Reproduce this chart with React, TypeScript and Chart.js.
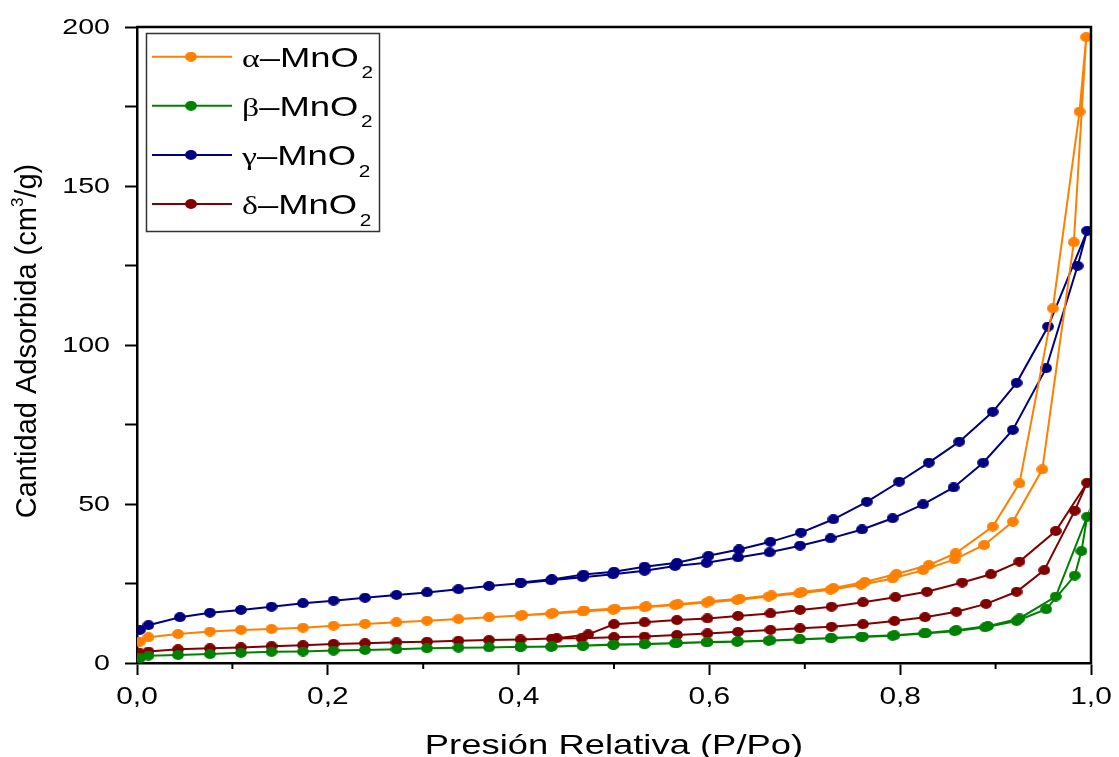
import { useEffect, useRef } from 'react';
import { Chart, registerables } from 'chart.js';
Chart.register(...registerables);

// ---- Data (relative pressure P/Po, adsorbed quantity cm3/g) ----
const ALPHA_ADS_P = [0.003, 0.012, 0.043, 0.0765, 0.109, 0.141, 0.174, 0.206, 0.239, 0.272, 0.304, 0.337, 0.369, 0.402, 0.434, 0.467, 0.499, 0.532, 0.564, 0.597, 0.629, 0.662, 0.694, 0.727, 0.759, 0.792, 0.824, 0.857, 0.888, 0.918, 0.949, 0.982, 0.995];
const ALPHA_ADS_V = [6.7, 8.1, 9.1, 9.9, 10.4, 10.7, 11.1, 11.7, 12.3, 12.8, 13.3, 13.8, 14.4, 14.9, 15.5, 16.2, 16.8, 17.5, 18.2, 19.0, 19.8, 20.9, 21.9, 23.0, 24.6, 26.6, 29.2, 32.6, 37.1, 44.4, 60.9, 132.3, 196.8];
const ALPHA_DES_P = [0.995, 0.988, 0.96, 0.925, 0.897, 0.858, 0.83, 0.796, 0.763, 0.73, 0.697, 0.665, 0.632, 0.6, 0.567, 0.534, 0.501, 0.469, 0.436, 0.404];
const ALPHA_DES_V = [196.8, 173.4, 111.5, 56.5, 42.9, 34.5, 30.8, 28.0, 25.5, 23.6, 22.3, 21.3, 20.2, 19.4, 18.5, 17.8, 17.1, 16.5, 15.7, 15.0];

const BETA_ADS_P = [0.003, 0.012, 0.043, 0.0765, 0.109, 0.141, 0.174, 0.206, 0.239, 0.272, 0.304, 0.337, 0.369, 0.402, 0.434, 0.467, 0.499, 0.532, 0.564, 0.597, 0.629, 0.662, 0.694, 0.727, 0.759, 0.792, 0.825, 0.857, 0.889, 0.922, 0.953, 0.983, 0.99, 0.996];
const BETA_ADS_V = [1.5, 2.3, 2.5, 2.8, 3.2, 3.5, 3.6, 3.9, 4.1, 4.3, 4.6, 4.8, 4.9, 5.1, 5.1, 5.4, 5.7, 5.9, 6.2, 6.5, 6.7, 7.0, 7.4, 7.8, 8.2, 8.6, 9.3, 10.0, 11.2, 13.2, 16.9, 27.5, 35.2, 46.0];
const BETA_DES_P = [0.996, 0.963, 0.925, 0.892, 0.859, 0.827, 0.794, 0.761, 0.728, 0.695, 0.664, 0.63, 0.598, 0.566, 0.532, 0.5, 0.468, 0.435, 0.402];
const BETA_DES_V = [46.0, 20.9, 14.0, 11.6, 10.3, 9.4, 8.7, 8.3, 7.9, 7.5, 7.1, 6.8, 6.6, 6.3, 6.0, 5.8, 5.5, 5.2, 5.0];

const GAMMA_ADS_P = [0.003, 0.012, 0.045, 0.0765, 0.109, 0.141, 0.174, 0.206, 0.239, 0.272, 0.304, 0.337, 0.369, 0.402, 0.434, 0.467, 0.499, 0.532, 0.564, 0.597, 0.63, 0.663, 0.695, 0.727, 0.76, 0.792, 0.824, 0.856, 0.887, 0.918, 0.953, 0.986, 0.996];
const GAMMA_ADS_V = [10.4, 11.9, 14.4, 15.8, 16.7, 17.7, 18.8, 19.6, 20.5, 21.4, 22.2, 23.2, 24.2, 25.1, 26.0, 27.0, 27.9, 29.0, 30.5, 31.5, 33.2, 34.8, 36.9, 39.2, 42.0, 45.5, 49.9, 55.2, 63.0, 73.3, 92.7, 124.9, 135.9];
const GAMMA_DES_P = [0.996, 0.955, 0.922, 0.897, 0.862, 0.83, 0.799, 0.765, 0.73, 0.696, 0.664, 0.631, 0.599, 0.566, 0.532, 0.5, 0.468, 0.435, 0.402];
const GAMMA_DES_V = [135.9, 105.8, 88.1, 79.0, 69.6, 63.0, 57.0, 50.7, 45.2, 41.0, 38.1, 35.7, 33.7, 31.5, 30.3, 28.7, 27.8, 26.3, 25.3];

const DELTA_ADS_P = [0.003, 0.012, 0.043, 0.0765, 0.109, 0.141, 0.174, 0.206, 0.239, 0.272, 0.304, 0.337, 0.369, 0.402, 0.435, 0.466, 0.5, 0.532, 0.566, 0.598, 0.63, 0.664, 0.695, 0.728, 0.761, 0.794, 0.826, 0.859, 0.89, 0.922, 0.951, 0.983, 0.996];
const DELTA_ADS_V = [3.0, 3.6, 4.3, 4.6, 4.9, 5.3, 5.6, 6.0, 6.2, 6.5, 6.7, 7.0, 7.2, 7.4, 7.7, 7.8, 8.1, 8.3, 8.8, 9.3, 9.8, 10.4, 10.9, 11.4, 12.2, 13.2, 14.4, 16.1, 18.6, 22.4, 29.2, 47.9, 56.7];
const DELTA_DES_P = [0.996, 0.963, 0.925, 0.895, 0.865, 0.828, 0.795, 0.761, 0.728, 0.695, 0.664, 0.63, 0.598, 0.566, 0.532, 0.5, 0.473, 0.44];
const DELTA_DES_V = [56.7, 41.5, 31.9, 27.9, 25.3, 22.4, 20.7, 19.1, 17.7, 16.7, 15.6, 14.8, 14.0, 13.5, 12.8, 12.2, 9.0, 7.8];

const SERIES_GREEK = ['α', 'β', 'γ', 'δ'];
const SERIES_NAME = '–MnO';
const SERIES_SUB = '2';
const SERIES_COLORS = ['#FF8000', '#008000', '#000080', '#800000'];

const X_TICK_VALUES = [0, 0.2, 0.4, 0.6, 0.8, 1.0];
const X_TICK_LABELS = ['0,0', '0,2', '0,4', '0,6', '0,8', '1,0'];
const X_MINOR_VALUES = [0.1, 0.3, 0.5, 0.7, 0.9];
const Y_TICK_VALUES = [0, 50, 100, 150, 200];
const Y_TICK_LABELS = ['0', '50', '100', '150', '200'];

const X_TITLE = 'Presión Relativa (P/Po)';
const Y_TITLE_A = 'Cantidad Adsorbida (cm';
const Y_TITLE_SUP = '3';
const Y_TITLE_B = '/g)';

const SANS = '"Liberation Sans", Arial, sans-serif';
const SERIF = '"Liberation Serif", "Times New Roman", serif';

function makeDot(color: string) {
  const c = document.createElement('canvas');
  c.width = 12;
  c.height = 10;
  const g = c.getContext('2d')!;
  g.fillStyle = color;
  g.beginPath();
  g.ellipse(6, 5, 5.9, 4.9, 0, 0, Math.PI * 2);
  g.fill();
  return c;
}

function buildSeries(adsP: number[], adsV: number[], desP: number[], desV: number[]) {
  const pts = adsP.map((p, i) => ({ x: p, y: adsV[i] }));
  for (let i = 1; i < desP.length; i++) pts.push({ x: desP[i], y: desV[i] });
  return pts;
}

export default function App() {
  const ref = useRef<HTMLCanvasElement | null>(null);

  useEffect(() => {
    document.body.style.margin = '0';
    const canvas = ref.current!;
    const dots = SERIES_COLORS.map(makeDot);
    const seriesData = [
      buildSeries(ALPHA_ADS_P, ALPHA_ADS_V, ALPHA_DES_P, ALPHA_DES_V),
      buildSeries(BETA_ADS_P, BETA_ADS_V, BETA_DES_P, BETA_DES_V),
      buildSeries(GAMMA_ADS_P, GAMMA_ADS_V, GAMMA_DES_P, GAMMA_DES_V),
      buildSeries(DELTA_ADS_P, DELTA_ADS_V, DELTA_DES_P, DELTA_DES_V),
    ];

    const decor = {
      id: 'decor',
      afterDraw(chart: any) {
        const ctx = chart.ctx as CanvasRenderingContext2D;
        const { left, right, top, bottom } = chart.chartArea;
        const xs = chart.scales.x;
        const ys = chart.scales.y;
        ctx.save();
        // top & right frame
        ctx.strokeStyle = '#000';
        ctx.lineWidth = 2.5;
        ctx.beginPath();
        ctx.moveTo(left - 1, top);
        ctx.lineTo(right, top);
        ctx.lineTo(right, bottom + 1);
        ctx.stroke();
        // minor x ticks
        ctx.lineWidth = 2;
        X_MINOR_VALUES.forEach((v) => {
          const px = xs.getPixelForValue(v);
          ctx.beginPath();
          ctx.moveTo(px, bottom);
          ctx.lineTo(px, bottom + 6);
          ctx.stroke();
        });
        ctx.fillStyle = '#000';
        // x tick labels
        X_TICK_VALUES.forEach((v, i) => {
          const px = xs.getPixelForValue(v);
          ctx.save();
          ctx.translate(px, bottom + 41);
          ctx.scale(1.3, 1);
          ctx.font = `23px ${SANS}`;
          ctx.textAlign = 'center';
          ctx.textBaseline = 'alphabetic';
          ctx.fillText(X_TICK_LABELS[i], 0, 0);
          ctx.restore();
        });
        // y tick labels
        Y_TICK_VALUES.forEach((v, i) => {
          const py = ys.getPixelForValue(v);
          ctx.save();
          ctx.translate(left - 27, py + 6.5);
          ctx.scale(1.3, 1);
          ctx.font = `22px ${SANS}`;
          ctx.textAlign = 'right';
          ctx.textBaseline = 'alphabetic';
          ctx.fillText(Y_TICK_LABELS[i], 0, 0);
          ctx.restore();
        });
        // x title
        ctx.save();
        ctx.translate((left + right) / 2, 754);
        ctx.scale(1.3, 1);
        ctx.font = `28px ${SANS}`;
        ctx.textAlign = 'center';
        ctx.textBaseline = 'alphabetic';
        ctx.fillText(X_TITLE, 0, 0);
        ctx.restore();
        // y title
        ctx.save();
        ctx.translate(36, 341);
        ctx.rotate(-Math.PI / 2);
        ctx.textAlign = 'left';
        ctx.textBaseline = 'alphabetic';
        ctx.font = `29px ${SANS}`;
        const wA = ctx.measureText(Y_TITLE_A).width;
        const wB = ctx.measureText(Y_TITLE_B).width;
        ctx.font = `17px ${SANS}`;
        const wS = ctx.measureText(Y_TITLE_SUP).width;
        let sx = -(wA + wS + wB) / 2;
        ctx.font = `29px ${SANS}`;
        ctx.fillText(Y_TITLE_A, sx, 0);
        sx += wA;
        ctx.font = `17px ${SANS}`;
        ctx.fillText(Y_TITLE_SUP, sx, -13);
        sx += wS;
        ctx.font = `29px ${SANS}`;
        ctx.fillText(Y_TITLE_B, sx, 0);
        ctx.restore();
        // legend
        ctx.save();
        ctx.fillStyle = '#fff';
        ctx.fillRect(147, 34, 232, 197);
        ctx.strokeStyle = '#333';
        ctx.lineWidth = 1.5;
        ctx.strokeRect(146.5, 33.5, 233, 198);
        SERIES_GREEK.forEach((g, i) => {
          const ry = 56.7 + i * 49.1;
          ctx.strokeStyle = SERIES_COLORS[i];
          ctx.lineWidth = 2;
          ctx.beginPath();
          ctx.moveTo(152, ry);
          ctx.lineTo(232, ry);
          ctx.stroke();
          ctx.drawImage(dots[i], 191 - 6, ry - 5);
          ctx.save();
          ctx.translate(242, ry + 10);
          ctx.scale(1.3, 1);
          ctx.fillStyle = '#000';
          ctx.textAlign = 'left';
          ctx.textBaseline = 'alphabetic';
          ctx.font = `26px ${SERIF}`;
          ctx.fillText(g, 0, 0);
          const w1 = ctx.measureText(g).width;
          ctx.font = `28px ${SANS}`;
          ctx.fillText(SERIES_NAME, w1, 0);
          const w2 = ctx.measureText(SERIES_NAME).width;
          ctx.font = `16px ${SANS}`;
          ctx.fillText(SERIES_SUB, w1 + w2 + 2, 11.6);
          ctx.restore();
        });
        ctx.restore();
        ctx.restore();
      },
    };

    const chart = new Chart(canvas, {
      type: 'scatter',
      data: {
        datasets: seriesData.map((d, i) => ({
          label: SERIES_GREEK[i] + SERIES_NAME + SERIES_SUB,
          data: d,
          showLine: true,
          borderColor: SERIES_COLORS[i],
          backgroundColor: SERIES_COLORS[i],
          borderWidth: 2,
          pointStyle: dots[i],
          pointRadius: 5,
          tension: 0,
        })),
      },
      options: {
        responsive: false,
        animation: false,
        layout: { padding: { left: 0, top: 27, right: 28, bottom: 0 } },
        plugins: { legend: { display: false }, tooltip: { enabled: false }, title: { display: false } },
        scales: {
          x: {
            type: 'linear',
            min: 0,
            max: 1,
            ticks: { stepSize: 0.2, display: false },
            grid: { display: true, drawOnChartArea: false, drawTicks: true, tickLength: 12, tickWidth: 2, tickColor: '#000' },
            border: { display: true, color: '#000', width: 2.5 },
            afterFit: (s: any) => { s.height = 94; },
          },
          y: {
            type: 'linear',
            min: 0,
            max: 200,
            ticks: { stepSize: 25, display: false },
            grid: { display: true, drawOnChartArea: false, drawTicks: true, tickLength: 12, tickWidth: 2, tickColor: '#000' },
            border: { display: true, color: '#000', width: 2.5 },
            afterFit: (s: any) => { s.width = 137; },
          },
        },
      },
      plugins: [decor],
    });
    return () => chart.destroy();
  }, []);

  return (
    <div style={{ position: 'absolute', left: 0, top: 0, width: 1119, height: 757, background: '#fff' }}>
      <canvas ref={ref} width={1119} height={757} style={{ display: 'block' }} />
    </div>
  );
}
